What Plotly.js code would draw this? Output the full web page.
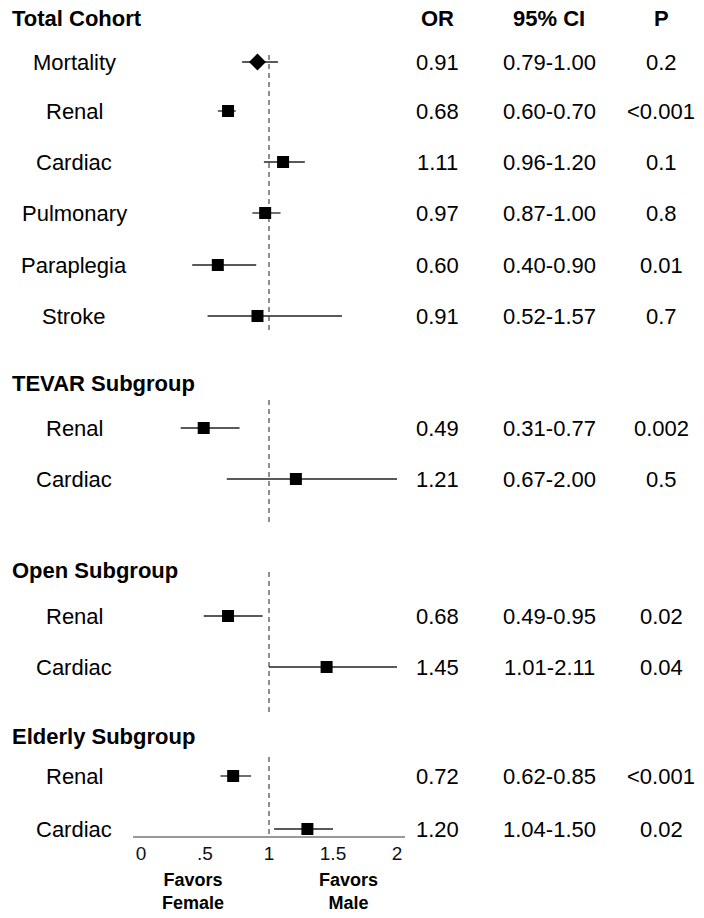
<!DOCTYPE html>
<html>
<head>
<meta charset="utf-8">
<script src="https://cdn.plot.ly/plotly-3.0.1.min.js"></script>
<style>html,body{margin:0;padding:0;background:#fff;}#chart{width:704px;height:918px;}</style>
</head>
<body>
<div id="chart"></div>
<script>
// ---- data ----
const outcomes = ['Mortality','Renal','Cardiac','Pulmonary','Paraplegia','Stroke','Renal','Cardiac','Renal','Cardiac','Renal','Cardiac'];
const estimate = [0.91,0.68,1.11,0.97,0.60,0.91,0.49,1.21,0.68,1.45,0.72,1.30];
const ciLow    = [0.79,0.60,0.96,0.87,0.40,0.52,0.31,0.67,0.49,1.00,0.62,1.04];
const ciHigh   = [1.07,0.74,1.28,1.09,0.90,1.57,0.77,2.00,0.95,2.00,0.86,1.50];
const orText   = ['0.91','0.68','1.11','0.97','0.60','0.91','0.49','1.21','0.68','1.45','0.72','1.20'];
const ciText   = ['0.79-1.00','0.60-0.70','0.96-1.20','0.87-1.00','0.40-0.90','0.52-1.57','0.31-0.77','0.67-2.00','0.49-0.95','1.01-2.11','0.62-0.85','1.04-1.50'];
const pText    = ['0.2','<0.001','0.1','0.8','0.01','0.7','0.002','0.5','0.02','0.04','<0.001','0.02'];
const groups   = ['Total Cohort','TEVAR Subgroup','Open Subgroup','Elderly Subgroup'];
const colHeads = ['OR','95% CI','P'];
const tickVals = [0,0.5,1,1.5,2];
const tickText = ['0','.5','1','1.5','2'];

// ---- layout positions ----
const rowPos   = [62,111,162,213,265,316,428,479,616,667,776,829];
const groupPos = [18,383,570,736];
const refSegments = [[55,330],[400,523],[572,712],[757,836]];

const FONT = '"Liberation Sans", Arial, Helvetica, sans-serif';
const L = 133, W = 272;
const px = v => (v - L) / W;   // pixel -> paper x

const ann = [];
const txt = (x, y, text, opts) => ann.push(Object.assign({
  xref:'paper', yref:'y', x:px(x), y:y, text:text, showarrow:false,
  xanchor:'center', yanchor:'middle', font:{family:FONT, size:22, color:'#000'}
}, opts||{}));

groups.forEach((g,i) => txt(10, groupPos[i], '<b>'+g+'</b>', {xanchor:'left'}));
const colX = [437, 549, 661];
colHeads.forEach((h,i) => txt(colX[i], groupPos[0], '<b>'+h+'</b>'));
outcomes.forEach((o,i) => {
  txt(74, rowPos[i], o);
  txt(colX[0], rowPos[i], orText[i]);
  txt(colX[1], rowPos[i], ciText[i]);
  txt(colX[2], rowPos[i], pText[i]);
});
// favors labels
ann.push({xref:'paper', yref:'paper', x:px(193), y:-56/836, text:'<b>Favors<br>Female</b>', showarrow:false,
  xanchor:'center', yanchor:'middle', align:'center', font:{family:FONT, size:18, color:'#000'}});
ann.push({xref:'paper', yref:'paper', x:px(348), y:-56/836, text:'<b>Favors<br>Male</b>', showarrow:false,
  xanchor:'center', yanchor:'middle', align:'center', font:{family:FONT, size:18, color:'#000'}});

const shapes = refSegments.map(s => ({
  type:'line', xref:'x', yref:'y', x0:1, x1:1, y0:s[0], y1:s[1], layer:'below',
  line:{color:'#444', width:1.2, dash:'5px,4px'}
}));

const trace = {
  type:'scatter', mode:'markers',
  x: estimate, y: rowPos,
  error_x: {type:'data', symmetric:false,
    array: ciHigh.map((h,i) => h - estimate[i]),
    arrayminus: ciLow.map((l,i) => estimate[i] - l),
    width:0, thickness:1.3, color:'#222'},
  marker: {symbol: estimate.map((_,i) => i === 0 ? 'diamond' : 'square'),
           size: estimate.map((_,i) => i === 0 ? 13 : 12), color:'#000', opacity:1,
           line:{width:0}},
  hoverinfo:'skip', cliponaxis:false
};

const layout = {
  width:704, height:918,
  margin:{l:L, r:704-L-W, t:0, b:82},
  paper_bgcolor:'#fff', plot_bgcolor:'#fff',
  showlegend:false,
  font:{family:FONT},
  xaxis:{range:[-0.0625, 2.0625], showgrid:false, zeroline:false,
    showline:true, linecolor:'#999', linewidth:1.5, ticks:'',
    tickvals:tickVals, ticktext:tickText, tickfont:{family:FONT, size:19, color:'#111'},
    fixedrange:true},
  yaxis:{range:[836, 0], visible:false, fixedrange:true},
  annotations: ann,
  shapes: shapes
};

Plotly.newPlot('chart', [trace], layout, {displayModeBar:false, staticPlot:true});
</script>
</body>
</html>
